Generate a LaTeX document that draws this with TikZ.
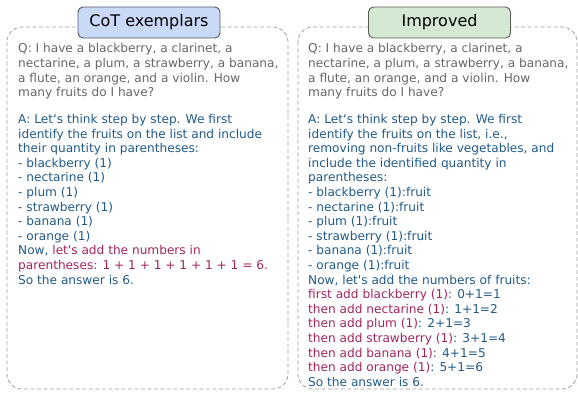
\documentclass[tikz,border=0pt]{standalone}
\usepackage{fontspec}
\newfontfamily\df{DejaVu Sans}
\definecolor{qgray}{HTML}{666666}
\definecolor{ablue}{HTML}{215A88}
\definecolor{amag}{HTML}{A2245E}
\definecolor{dashgray}{HTML}{A0A0A0}
\definecolor{tblue}{HTML}{C9D9F7}
\definecolor{tgreen}{HTML}{D5E8D4}
\tikzset{
  panel/.style={draw=dashgray, dashed, dash pattern=on 4pt off 2.5pt, line width=0.8pt, rounded corners=15pt},
  titlebox/.style={draw=#1!40!black, line width=0.9pt, rounded corners=5pt, minimum width=142pt, minimum height=31pt, inner sep=0pt, font=\df\fontsize{16}{19}\selectfont, text=black},
  txt/.style={anchor=north west, inner sep=0pt, align=left, font=\df\fontsize{12.15}{14.6}\selectfont},
}
\begin{document}
\begin{tikzpicture}[x=1pt,y=-1pt]
\useasboundingbox (0,0) rectangle (578,392);
\draw[panel] (7,27) rectangle (288,389);
\draw[panel] (298,27) rectangle (577,389);
\node[titlebox=tblue, fill=tblue] (t1) at (149,22.5) {CoT exemplars};
\node[titlebox=tgreen, fill=tgreen] (t2) at (439.5,22.5) {Improved};
% left
\node[txt, text=qgray] (lq) at (18,43.5) {Q: I have a blackberry, a clarinet, a\\
nectarine, a plum, a strawberry, a banana,\\
a flute, an orange, and a violin. How\\
many fruits do I have?};
\node[txt, text=ablue] (la) at (18,114) {A: Let‘s think step by step. We first\\
identify the fruits on the list and include\\
their quantity in parentheses:\\
- blackberry (1)\\
- nectarine (1)\\
- plum (1)\\
- strawberry (1)\\
- banana (1)\\
- orange (1)\\
Now, \textcolor{amag}{let's add the numbers in}\\
\textcolor{amag}{parentheses: 1 + 1 + 1 + 1 + 1 + 1 = 6.}\\
So the answer is 6.};
% right
\node[txt, text=qgray] (rq) at (308,43.5) {Q: I have a blackberry, a clarinet, a\\
nectarine, a plum, a strawberry, a banana,\\
a flute, an orange, and a violin. How\\
many fruits do I have?};
\node[txt, text=ablue] (ra) at (308,114) {A: Let‘s think step by step. We first\\
identify the fruits on the list, i.e.,\\
removing non-fruits like vegetables, and\\
include the identified quantity in\\
parentheses:\\
- blackberry (1):fruit\\
- nectarine (1):fruit\\
- plum (1):fruit\\
- strawberry (1):fruit\\
- banana (1):fruit\\
- orange (1):fruit\\
Now, let's add the numbers of fruits:\\
\textcolor{amag}{first add blackberry (1)}: 0+1=1\\
\textcolor{amag}{then add nectarine (1)}: 1+1=2\\
\textcolor{amag}{then add plum (1)}: 2+1=3\\
\textcolor{amag}{then add strawberry (1)}: 3+1=4\\
\textcolor{amag}{then add banana (1)}: 4+1=5\\
\textcolor{amag}{then add orange (1)}: 5+1=6\\
So the answer is 6.};
\end{tikzpicture}
\end{document}
